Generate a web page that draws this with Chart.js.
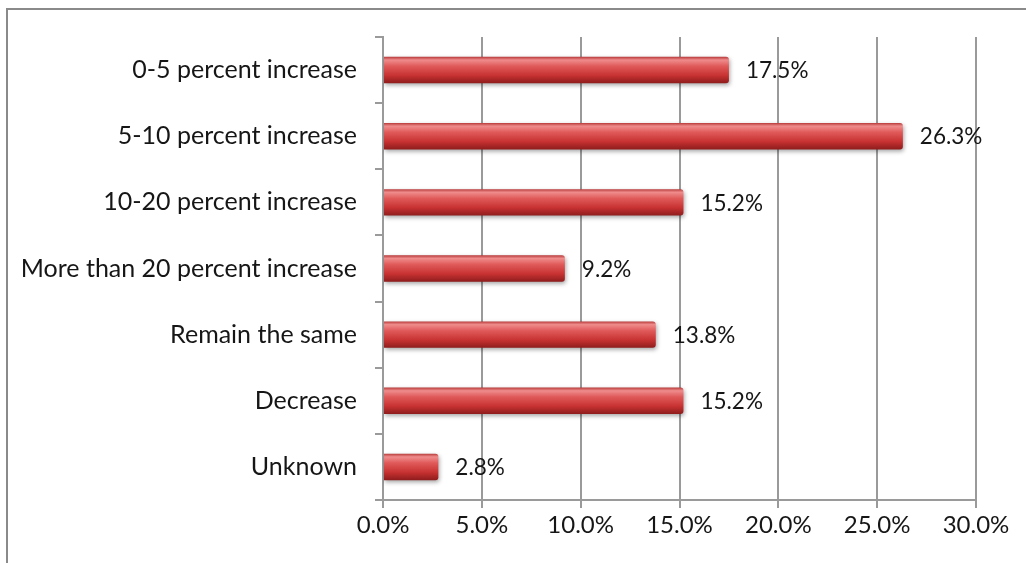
<!DOCTYPE html>
<html>
<head>
<meta charset="utf-8">
<script src="https://cdn.jsdelivr.net/npm/chart.js@4"></script>
<style>
  html, body { margin: 0; padding: 0; background: #fff; overflow: hidden; }
  .frame {
    position: absolute; left: 6px; top: 8px; width: 1040px; height: 580px;
    border: 2px solid #8a8a8a; box-sizing: border-box;
  }
  #chart { position: absolute; left: 0; top: 0; }
</style>
</head>
<body>
<div class="frame"></div>
<canvas id="chart" width="1026" height="563"></canvas>
<script>
const categories = [
  '0-5 percent increase',
  '5-10 percent increase',
  '10-20 percent increase',
  'More than 20 percent increase',
  'Remain the same',
  'Decrease',
  'Unknown'
];
const shares = [17.5, 26.3, 15.2, 9.2, 13.8, 15.2, 2.8];
const xTicks = [0, 5, 10, 15, 20, 25, 30];

const FONT = 'Lato, "Open Sans", sans-serif';
const GRID = '#9a9a9a';
const INK = '#161616';

// vertical gradient per bar so each one looks like a shaded tube
function barFill(ctx) {
  const chart = ctx.chart;
  const y = chart.scales.y;
  if (!y || ctx.dataIndex === undefined) return '#c62f2f';
  const band = (y.bottom - y.top) / categories.length;
  const h = band * 0.4;
  const yc = y.getPixelForValue(ctx.dataIndex);
  if (!isFinite(yc) || !isFinite(h) || h <= 0) return '#c62f2f';
  const g = chart.ctx.createLinearGradient(0, yc - h / 2, 0, yc + h / 2);
  g.addColorStop(0, '#b83a3a');
  g.addColorStop(0.12, '#ef8c8c');
  g.addColorStop(0.35, '#e05a5a');
  g.addColorStop(0.7, '#c83232');
  g.addColorStop(1, '#8e1c1c');
  return g;
}

const barShadow = {
  id: 'barShadow',
  beforeDatasetsDraw(chart) {
    const c = chart.ctx;
    c.save();
    c.shadowColor = 'rgba(0,0,0,0.35)';
    c.shadowBlur = 4;
    c.shadowOffsetX = 1;
    c.shadowOffsetY = 2;
  },
  afterDatasetsDraw(chart) {
    chart.ctx.restore();
  }
};

const valueLabels = {
  id: 'valueLabels',
  afterDraw(chart) {
    const c = chart.ctx;
    const meta = chart.getDatasetMeta(0);
    c.save();
    c.font = '22.5px ' + FONT;
    c.fillStyle = INK;
    c.textAlign = 'left';
    c.textBaseline = 'middle';
    meta.data.forEach((bar, i) => {
      c.fillText(shares[i].toFixed(1) + '%', bar.x + 17, bar.y + 1);
    });
    c.restore();
  }
};

new Chart(document.getElementById('chart'), {
  type: 'bar',
  data: {
    labels: categories,
    datasets: [{
      data: shares,
      backgroundColor: barFill,
      borderWidth: 0,
      borderRadius: { topRight: 3, bottomRight: 3 },
      borderSkipped: 'left',
      categoryPercentage: 1,
      barPercentage: 0.4
    }]
  },
  options: {
    indexAxis: 'y',
    responsive: false,
    animation: false,
    layout: { padding: { top: 37, right: 50, left: 0, bottom: 0 } },
    plugins: {
      legend: { display: false },
      tooltip: { enabled: false }
    },
    scales: {
      x: {
        min: 0,
        max: 30,
        afterBuildTicks(scale) {
          scale.ticks = xTicks.map(v => ({ value: v }));
        },
        afterFit(scale) { scale.height = 63; },
        grid: { color: GRID, lineWidth: 2, tickLength: 8 },
        border: { color: GRID, width: 2 },
        ticks: {
          color: INK,
          font: { family: FONT, size: 24 },
          padding: 3,
          callback: v => Number(v).toFixed(1) + '%'
        }
      },
      y: {
        afterFit(scale) { scale.width = 383; },
        grid: { display: true, drawOnChartArea: false, color: GRID, lineWidth: 2, tickLength: 8, offset: true },
        border: { color: GRID, width: 2 },
        ticks: {
          color: INK,
          font: { family: FONT, size: 25 },
          padding: 18
        }
      }
    }
  },
  plugins: [barShadow, valueLabels]
});
</script>
</body>
</html>
